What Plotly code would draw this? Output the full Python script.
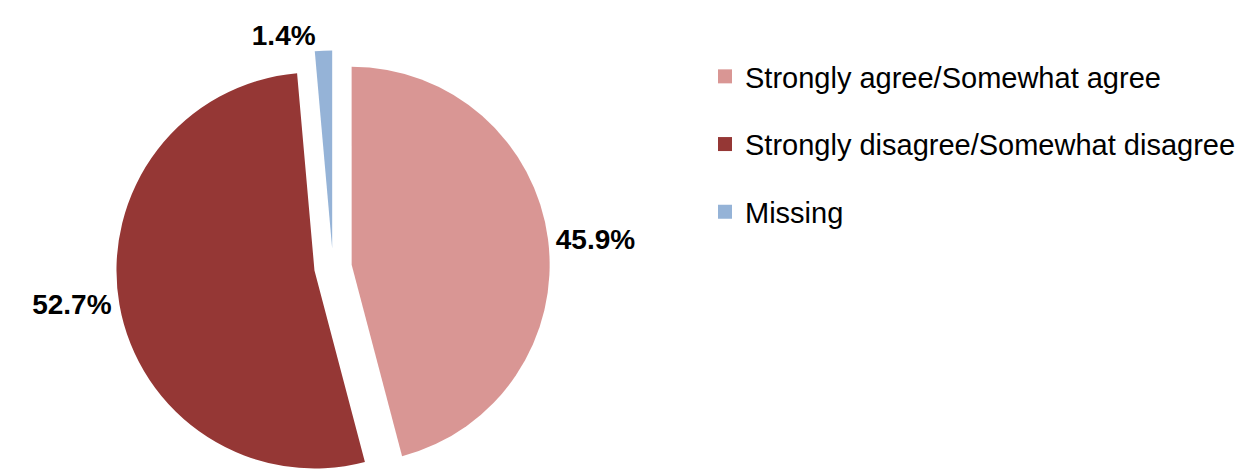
import plotly.graph_objects as go

# ---- data ----
categories = ["Strongly agree/Somewhat agree",
              "Strongly disagree/Somewhat disagree",
              "Missing"]
values = [45.9, 52.7, 1.4]
colors = ["#D99694", "#953735", "#95B3D7"]

# ---- layout constants ----
W, H = 1248, 476
PULL = 0.095
R = 198
box_h = 2 * R * (1 + PULL)
cx_frac = 325 / W
dom_y = [0, box_h / H]
dom_x = [cx_frac - 0.2, cx_frac + 0.2]

fig = go.Figure()
fig.add_trace(go.Pie(
    labels=categories,
    values=values,
    marker=dict(colors=colors, line=dict(width=0)),
    pull=[PULL] * len(values),
    sort=False,
    direction="clockwise",
    rotation=0,
    textposition="outside",
    texttemplate="%{value:.1f}%",
    textfont=dict(family="Liberation Sans, Arial", size=28, color="black", weight="bold"),
    showlegend=False,
    domain=dict(x=dom_x, y=dom_y),
    automargin=False,
    hoverinfo="label+value",
))

# legend entries (one group per category so they can be spaced apart)
for cat, col in zip(categories, colors):
    fig.add_trace(go.Scatter(
        x=[None], y=[None], mode="markers",
        marker=dict(symbol="square", size=14, color=col),
        name=cat, legendgroup=cat, showlegend=True,
    ))

fig.update_layout(
    width=W, height=H,
    margin=dict(l=0, r=0, t=0, b=0),
    paper_bgcolor="white",
    plot_bgcolor="white",
    xaxis=dict(visible=False),
    yaxis=dict(visible=False),
    legend=dict(
        x=697 / W, y=1 - 43 / H, xanchor="left", yanchor="top",
        tracegroupgap=27,
        font=dict(family="Liberation Sans, Arial", size=29, color="black"),
        bgcolor="rgba(0,0,0,0)",
    ),
    font=dict(family="Liberation Sans, Arial"),
)

fig.write_html("out.html")
